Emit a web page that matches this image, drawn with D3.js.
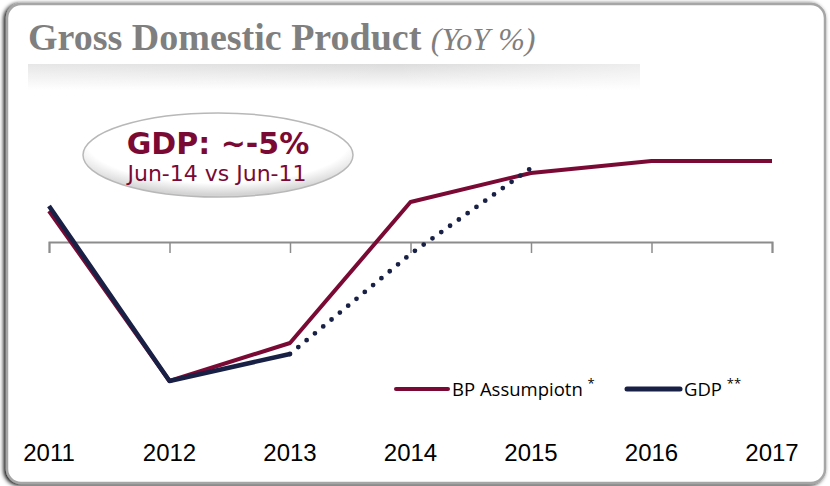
<!DOCTYPE html>
<html>
<head>
<meta charset="utf-8">
<script src="https://cdn.jsdelivr.net/npm/d3@7"></script>
<style>
  body { margin: 0; background: #fff; }
  svg { display: block; }
</style>
</head>
<body>
<div id="chart"></div>
<script>
// data (YoY %)
const years = [2011, 2012, 2013, 2014, 2015, 2016, 2017];
const bpAssumption = [1.55, -6.95, -5.05, 2.0, 3.45, 4.05, 4.05];
const gdpActual = [1.8, -6.95, -5.6];          // 2011-2013
const gdpTrendYears = [2013, 2014, 2015];       // dotted projection
const gdpTrend = [-5.6, -0.6, 3.7];

const width = 830, height = 486;
const maroon = '#7a0a34', navy = '#182045';

const svg = d3.select('#chart').append('svg')
  .attr('width', width)
  .attr('height', height);

const defs = svg.append('defs');

// soft shadow for the panel
const sh = defs.append('filter').attr('id', 'shadow')
  .attr('x', '-5%').attr('y', '-5%').attr('width', '110%').attr('height', '110%');
sh.append('feGaussianBlur').attr('in', 'SourceAlpha').attr('stdDeviation', 2);
sh.append('feOffset').attr('dx', -2).attr('dy', 1).attr('result', 'ob');
const merge = sh.append('feMerge');
merge.append('feMergeNode').attr('in', 'ob');
merge.append('feMergeNode').attr('in', 'SourceGraphic');

// title band gradient
const band = defs.append('linearGradient').attr('id', 'band')
  .attr('x1', 0).attr('y1', 0).attr('x2', 0).attr('y2', 1);
band.append('stop').attr('offset', '0%').attr('stop-color', '#dcdcdc');
band.append('stop').attr('offset', '100%').attr('stop-color', '#ffffff');
const bandH = defs.append('linearGradient').attr('id', 'bandMask')
  .attr('x1', 0).attr('y1', 0).attr('x2', 1).attr('y2', 0);
bandH.append('stop').attr('offset', '0%').attr('stop-color', '#fff').attr('stop-opacity', 0.3);
bandH.append('stop').attr('offset', '60%').attr('stop-color', '#fff').attr('stop-opacity', 0);
bandH.append('stop').attr('offset', '100%').attr('stop-color', '#fff').attr('stop-opacity', 0.5);

// oval gradient
const ov = defs.append('radialGradient').attr('id', 'oval')
  .attr('cx', '50%').attr('cy', '35%').attr('r', '62%');
ov.append('stop').attr('offset', '0%').attr('stop-color', '#ffffff');
ov.append('stop').attr('offset', '78%').attr('stop-color', '#ffffff');
ov.append('stop').attr('offset', '100%').attr('stop-color', '#d4d4d4');

// panel
svg.append('rect')
  .attr('x', 7).attr('y', 4)
  .attr('width', 818).attr('height', 479)
  .attr('rx', 14)
  .attr('fill', '#fff')
  .attr('stroke', '#a6a6a6')
  .attr('stroke-width', 2.5)
  .attr('filter', 'url(#shadow)');

// title band
svg.append('rect').attr('x', 28).attr('y', 64).attr('width', 612).attr('height', 26)
  .attr('fill', 'url(#band)');
svg.append('rect').attr('x', 28).attr('y', 64).attr('width', 612).attr('height', 26)
  .attr('fill', 'url(#bandMask)');

// title
const title = svg.append('text')
  .attr('x', 28).attr('y', 50)
  .style('font-family', '"Liberation Serif", "DejaVu Serif", serif')
  .style('font-size', '38px')
  .style('fill', '#7f7f7f');
title.append('tspan').style('font-weight', 'bold').text('Gross Domestic Product ');
title.append('tspan').style('font-style', 'italic').style('font-size', '32px').text('(YoY %)');

// scales
const x = d3.scalePoint().domain(years).range([49, 772]);
const y = d3.scaleLinear().domain([-7, 4]).range([382, 162]);

// axis at zero
const xAxis = d3.axisBottom(x).tickSize(11).tickFormat('');
const axisG = svg.append('g')
  .attr('transform', `translate(0,${y(0)})`)
  .call(xAxis);
axisG.select('.domain').attr('stroke', '#8c8c8c').attr('stroke-width', 2);
axisG.selectAll('.tick line').attr('stroke', '#8c8c8c').attr('stroke-width', 1.5);

// year labels
svg.append('g').selectAll('text')
  .data(years)
  .join('text')
  .attr('x', d => x(d))
  .attr('y', 461)
  .attr('text-anchor', 'middle')
  .style('font-family', '"Liberation Sans", Arial, sans-serif')
  .style('font-size', '24px')
  .style('fill', '#000')
  .text(d => d);

const line = d3.line()
  .x(d => x(d[0]))
  .y(d => y(d[1]));

// BP assumption
svg.append('path')
  .datum(years.map((yr, i) => [yr, bpAssumption[i]]))
  .attr('d', line)
  .attr('fill', 'none')
  .attr('stroke', maroon)
  .attr('stroke-width', 4)
  .attr('stroke-linejoin', 'round');

// GDP trend (dotted)
svg.append('path')
  .datum(gdpTrendYears.map((yr, i) => [yr, gdpTrend[i]]))
  .attr('d', line)
  .attr('fill', 'none')
  .attr('stroke', navy)
  .attr('stroke-width', 4.8)
  .attr('stroke-linecap', 'round')
  .attr('stroke-dasharray', '0 10.8');

// GDP actual
svg.append('path')
  .datum(gdpActual.map((v, i) => [years[i], v]))
  .attr('d', line)
  .attr('fill', 'none')
  .attr('stroke', navy)
  .attr('stroke-width', 4.5)
  .attr('stroke-linejoin', 'round');

// callout oval
svg.append('ellipse')
  .attr('cx', 218).attr('cy', 155)
  .attr('rx', 135).attr('ry', 42)
  .attr('fill', 'url(#oval)')
  .attr('stroke', '#b8b8b8')
  .attr('stroke-width', 1.5);
svg.append('text')
  .attr('x', 218).attr('y', 154)
  .attr('text-anchor', 'middle')
  .style('font-family', '"DejaVu Sans", Verdana, sans-serif')
  .style('font-weight', 'bold')
  .style('font-size', '30px')
  .style('fill', maroon)
  .text('GDP: ~-5%');
svg.append('text')
  .attr('x', 217).attr('y', 181)
  .attr('text-anchor', 'middle')
  .style('font-family', '"DejaVu Sans", Verdana, sans-serif')
  .style('font-size', '22px')
  .style('fill', maroon)
  .text('Jun-14 vs Jun-11');

// legend
const legend = [
  { name: 'BP Assumpiotn', mark: '*', color: maroon, x: 396, w: 52 },
  { name: 'GDP', mark: '**', color: navy, x: 627, w: 53 }
];
const lg = svg.append('g').selectAll('g')
  .data(legend)
  .join('g')
  .attr('transform', d => `translate(${d.x},389)`);
lg.append('line')
  .attr('x1', 0).attr('x2', d => d.w)
  .attr('stroke', d => d.color)
  .attr('stroke-width', d => d.name === 'GDP' ? 5 : 4)
  .attr('stroke-linecap', 'round');
const lt = lg.append('text')
  .attr('x', d => d.w + 4)
  .attr('y', 7)
  .style('font-family', '"Open Sans", "Noto Sans", sans-serif')
  .style('font-size', '18.5px')
  .style('fill', '#000');
lt.append('tspan').text(d => d.name + ' ');
lt.append('tspan').attr('dy', -8).style('font-size', '13px').text(d => d.mark);
</script>
</body>
</html>
